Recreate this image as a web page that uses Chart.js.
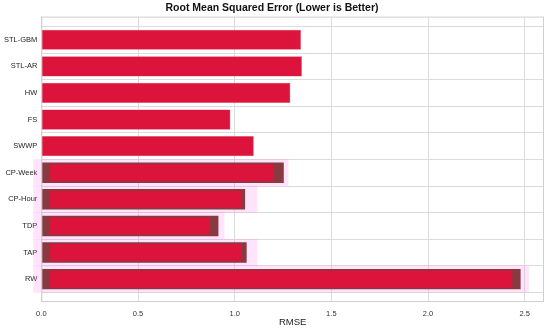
<!DOCTYPE html>
<html>
<head>
<meta charset="utf-8">
<script src="https://cdn.jsdelivr.net/npm/chart.js@4"></script>
<style>
  html, body { margin: 0; padding: 0; background: #fff; }
  #wrap { width: 550px; height: 328px; }
</style>
</head>
<body>
<div id="wrap"><canvas id="myChart"></canvas></div>
<script>
// models, top to bottom
const categories = ['STL-GBM', 'STL-AR', 'HW', 'FS', 'SWWP', 'CP-Week', 'CP-Hour', 'TDP', 'TAP', 'RW'];
// RMSE per model (outer bar end)
const rmse = [1.343, 1.348, 1.288, 0.978, 1.099, 1.254, 1.054, 0.916, 1.062, 2.479];
// inner (crimson) bar for the overlaid models, null where there is none
const innerStart = [null, null, null, null, null, 0.045, 0.045, 0.045, 0.045, 0.045];
const innerEnd = [null, null, null, null, null, 1.202, 1.037, 0.869, 1.038, 2.436];
// pink band behind the overlaid models
const bandStart = [null, null, null, null, null, -0.04, -0.04, -0.04, -0.04, -0.04];
const bandEnd = [null, null, null, null, null, 1.276, 1.116, 0.945, 1.116, 2.52];
const xTicks = [0, 0.5, 1.0, 1.5, 2.0, 2.5];

const ctx = document.getElementById('myChart').getContext('2d');

const plain = [], outer = [], inner = [], band = [];
categories.forEach((c, i) => {
  if (innerEnd[i] === null) {
    plain.push({ y: i, x: [0, rmse[i]] });
  } else {
    outer.push({ y: i, x: [0, rmse[i]] });
    inner.push({ y: i, x: [innerStart[i], innerEnd[i]] });
    band.push({ y: i, x: [bandStart[i], bandEnd[i]] });
  }
});

// grey box round the plot area
const frame = {
  id: 'frame',
  afterDatasetsDraw(chart) {
    const a = chart.chartArea;
    const c = chart.ctx;
    c.save();
    c.strokeStyle = '#cfcfcf';
    c.lineWidth = 1;
    c.strokeRect(a.left + 0.5, a.top + 0.5, a.right - a.left - 1, a.bottom - a.top - 1);
    c.restore();
  }
};

const font = 'Liberation Sans, Arial, sans-serif';

new Chart(ctx, {
  type: 'bar',
  data: {
    datasets: [
      { data: plain, backgroundColor: '#dc143c', borderColor: '#e8536f', borderWidth: 0.5,
        barPercentage: 0.76, categoryPercentage: 1, grouped: false, order: 0 },
      { data: inner, backgroundColor: '#dc143c',
        barPercentage: 0.64, categoryPercentage: 1, grouped: false, order: 1 },
      { data: outer, backgroundColor: '#873a40',
        barPercentage: 0.77, categoryPercentage: 1, grouped: false, order: 2 },
      { data: band, backgroundColor: 'rgba(255,120,235,0.2)', clip: false,
        barPercentage: 1.0, categoryPercentage: 1, grouped: false, order: 3 }
    ]
  },
  options: {
    indexAxis: 'y',
    responsive: true,
    maintainAspectRatio: false,
    animation: false,
    layout: { padding: { left: 0, right: 6, top: 0, bottom: 0 } },
    plugins: {
      legend: { display: false },
      tooltip: { enabled: false },
      title: {
        display: true,
        text: 'Root Mean Squared Error (Lower is Better)',
        color: '#111',
        font: { family: font, size: 10.5, weight: 'bold' },
        padding: { top: 2, bottom: 2 }
      }
    },
    scales: {
      x: {
        type: 'linear',
        min: 0,
        max: 2.6,
        afterBuildTicks: (s) => { s.ticks = xTicks.map(v => ({ value: v })); },
        afterFit: (s) => { s.height = 26; },
        ticks: {
          color: '#333',
          font: { family: font, size: 7.5 },
          padding: 7,
          maxRotation: 0,
          callback: (v) => Number(v).toFixed(1)
        },
        grid: { color: '#dcdcdc', drawTicks: false },
        border: { display: false },
        title: {
          display: true,
          text: 'RMSE',
          color: '#222',
          font: { family: font, size: 9.5 },
          padding: { top: 0, bottom: 0 }
        }
      },
      y: {
        type: 'linear',
        reverse: true,
        offset: false,
        min: -0.87,
        max: 9.86,
        afterBuildTicks: (s) => { s.ticks = categories.map((c, i) => ({ value: i })); },
        ticks: {
          color: '#222',
          font: { family: font, size: 7.5 },
          padding: 4,
          autoSkip: false,
          callback: (v) => categories[v]
        },
        grid: { color: '#dcdcdc', drawTicks: false },
        border: { display: false }
      }
    }
  },
  plugins: [frame]
});
</script>
</body>
</html>
